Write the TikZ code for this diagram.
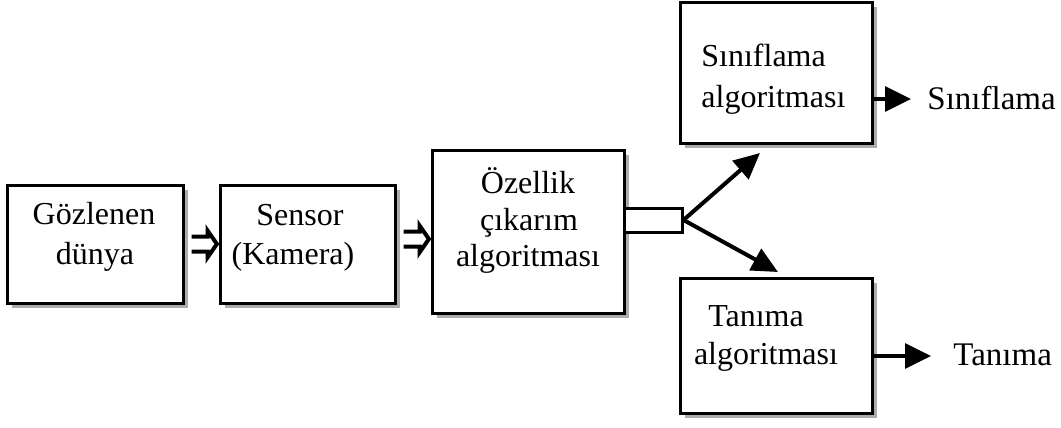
\documentclass[tikz,border=0pt]{standalone}
\usepackage{fontspec}
\setmainfont{Liberation Serif}
\usetikzlibrary{arrows.meta,shadows,calc}
\tikzset{
  blk/.style={draw, line width=1.5pt, fill=white, inner sep=0pt,
    drop shadow={shadow xshift=2.5pt, shadow yshift=-2.5pt, fill=gray!65, opacity=1}},
  txt/.style={inner sep=0pt, anchor=base, font=\fontsize{16}{19}\selectfont},
  txtl/.style={txt, anchor=base west},
  lbl/.style={inner sep=0pt, anchor=base west, font=\fontsize{16.5}{19}\selectfont},
  hollowarrow/.style={draw, line width=2pt, fill=white, line join=miter,
    to path={let \p1=(\tikztostart), \p2=(\tikztotarget) in
      (\x1,\y1+3.75pt) -- (\x2-5.5pt,\y1+3.75pt) -- (\x2-5.5pt,\y1+6.75pt) -- (\x2-0.8pt,\y1)
      -- (\x2-5.5pt,\y1-6.75pt) -- (\x2-5.5pt,\y1-3.75pt) -- (\x1,\y1-3.75pt)}},
  diagarrow/.style={line width=2pt, -{Triangle[length=13pt,width=12pt]}},
  outarrow/.style={line width=1.75pt, -{Triangle[length=13pt,width=12.5pt]}},
  port/.style={draw, line width=1.5pt, fill=white, inner sep=0pt}
}
\begin{document}
\begin{tikzpicture}[x=0.5pt,y=-0.5pt]
\useasboundingbox (0,0) rectangle (1061,428);
% boxes
\node[blk, minimum width=88pt, minimum height=59pt] (b1) at (95,244) {};
\node[blk, minimum width=87.5pt, minimum height=59pt] (b2) at (307.5,244) {};
\node[blk, minimum width=96pt, minimum height=81.5pt] (b3) at (528,231.5) {};
\node[blk, minimum width=96pt, minimum height=70.5pt] (b4) at (776,72.5) {};
\node[blk, minimum width=96pt, minimum height=67.5pt] (b5) at (776,345.5) {};
% texts
\node[txt] (t1a) at (94,224) {Gözlenen};
\node[txt] (t1b) at (95,264) {dünya};
\node[txt] (t2a) at (300,225) {Sensor};
\node[txt] (t2b) at (293,264) {(Kamera)};
\node[txt] (t3a) at (528,193) {Özellik};
\node[txt] (t3b) at (529,230) {çıkarım};
\node[txt] (t3c) at (528,266) {algoritması};
\node[txtl] (t4a) at (701,66) {Sınıflama};
\node[txtl] (t4b) at (701,107) {algoritması};
\node[txt] (t5a) at (756,326) {Tanıma};
\node[txt] (t5b) at (766,364) {algoritması};
% output labels
\node[lbl] (o1) at (927,109) {Sınıflama};
\node[lbl] (o2) at (953,365) {Tanıma};
% port
\node[port, minimum width=29pt, minimum height=12pt] (p) at (653,220) {};
% connectors
\path (b1.east) ++(7,0) coordinate (a1s);
\path (b2.east) ++(7,-5) coordinate (a2s);
\draw[hollowarrow] (a1s) to (b2.west);
\draw[hollowarrow] (a2s) to (a2s -| b3.west);
\coordinate (up) at (760,153);
\coordinate (dn) at (778,272);
\draw[diagarrow] (p.east) -- (up);
\draw[diagarrow] (p.east) -- (dn);
\coordinate (o1t) at (911,99);
\coordinate (o2t) at (931,356);
\draw[outarrow] (b4.east |- o1t) -- (o1t);
\draw[outarrow] (b5.east |- o2t) -- (o2t);
\end{tikzpicture}
\end{document}
